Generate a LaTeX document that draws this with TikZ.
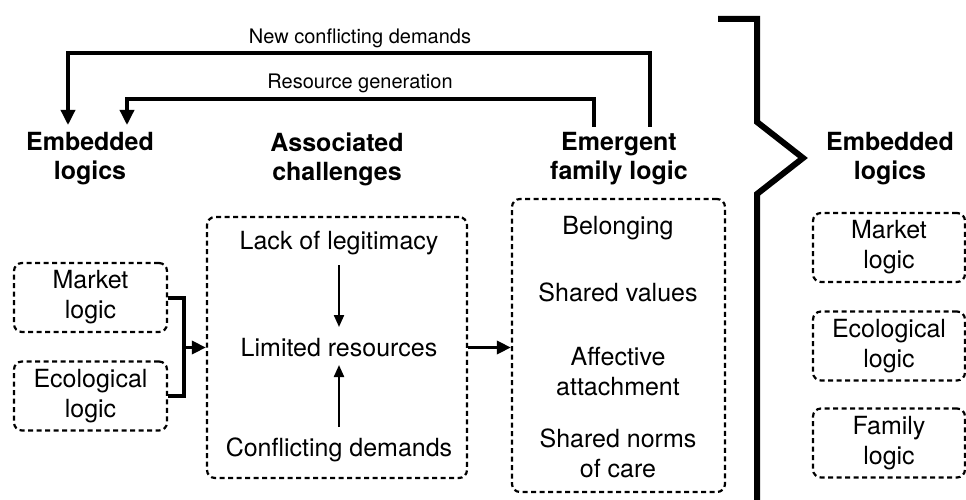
\documentclass[tikz,border=0pt]{standalone}
\usepackage{fontspec}
\setmainfont{TeX Gyre Heros}
\usetikzlibrary{arrows.meta}
\begin{document}
\begin{tikzpicture}[x=1pt,y=-1pt,
  txt/.style={font=\fontsize{25}{30}\selectfont, align=center, inner sep=0pt},
  head/.style={font=\fontsize{25}{29}\selectfont\bfseries, align=center, inner sep=0pt},
  lbl/.style={font=\fontsize{20}{24}\selectfont, inner sep=0pt},
  dbox/.style={draw, line width=2.2pt, dash pattern=on 5pt off 3.5pt, rounded corners=8pt,
               align=center, inner sep=0pt, font=\fontsize{25}{30}\selectfont},
  fb/.style={line width=3.4pt, -{Triangle[length=15pt,width=14pt]}},
  arr/.style={line width=3.4pt, -{Triangle[length=14pt,width=13pt]}},
  tarr/.style={line width=2.2pt, -{Triangle[length=12pt,width=10pt]}},
  brk/.style={line width=4pt},
  divider/.style={line width=6pt, line join=miter}]
\useasboundingbox (0,0) rectangle (966,500);

% column headings
\node[head] (embL) at (90,159) {Embedded\\logics};
\node[head] (assoc) at (337,159) {Associated\\challenges};
\node[head] (emerg) at (619,159) {Emergent\\family logic};
\node[head] (embR) at (890,159) {Embedded\\logics};

% left: embedded logics
\node[dbox, minimum width=153pt, minimum height=69pt] (mktL) at (90.5,297.5) {Market\\logic};
\node[dbox, minimum width=153pt, minimum height=69pt] (ecoL) at (90.5,396) {Ecological\\logic};

% middle: associated challenges
\node[dbox, minimum width=260pt, minimum height=261pt] (chal) at (337,347.5) {};
\node[txt] (lack) at (339,243) {Lack of legitimacy};
\node[txt] (lim) at (339,348) {Limited resources};
\node[txt] (conf) at (339,450) {Conflicting demands};
\draw[tarr] ([yshift=-22pt]lack.center) -- ([yshift=21pt]lim.center);
\draw[tarr] ([yshift=23pt]conf.center) -- ([yshift=-17pt]lim.center);

% emergent family logic
\node[dbox, minimum width=213pt, minimum height=293pt] (fam) at (618.5,345.5) {};
\node[txt] (bel) at (618,228) {Belonging};
\node[txt] (val) at (618,292) {Shared values};
\node[txt] (aff) at (618,372) {Affective\\attachment};
\node[txt] (care) at (618,453) {Shared norms\\of care};

% right: embedded logics afterwards
\node[dbox, minimum width=152pt, minimum height=69pt] (mktR) at (889,247.5) {Market\\logic};
\node[dbox, minimum width=152pt, minimum height=69pt] (ecoR) at (889,346) {Ecological\\logic};
\node[dbox, minimum width=152pt, minimum height=69pt] (famR) at (889,443) {Family\\logic};

% bracket joining the two logics, and flow arrows
\draw[brk] (mktL.east) -- ++(16,0) coordinate (bk) |- (ecoL.east);
\coordinate (bkmid) at (183,347.5);
\draw[arr] (bkmid) -- (chal.west);
\draw[arr] (chal.east) -- (chal.east -| fam.west);

% feedback loops
\coordinate (ncdStart) at (650,127);
\coordinate (ncdEnd) at (68,125);
\coordinate (rgStart) at (594,127);
\coordinate (rgEnd) at (127,125);
\draw[fb, line join=miter] (ncdStart) |- (68,53) -- (ncdEnd);
\draw[fb, line join=miter] (rgStart) |- (127,99) -- (rgEnd);
\node[lbl] (ncd) at (360,38) {New conflicting demands};
\node[lbl] (rg) at (360,83) {Resource generation};

% divider between before and after
\coordinate (d1) at (718,19);
\coordinate (d2) at (757,19);
\coordinate (d3) at (757,122);
\coordinate (d4) at (803,158);
\coordinate (d5) at (757,194);
\coordinate (d6) at (757,500);
\draw[divider] (d1) -- (d2) -- (d3) -- (d4) -- (d5) -- (d6);
\end{tikzpicture}
\end{document}
